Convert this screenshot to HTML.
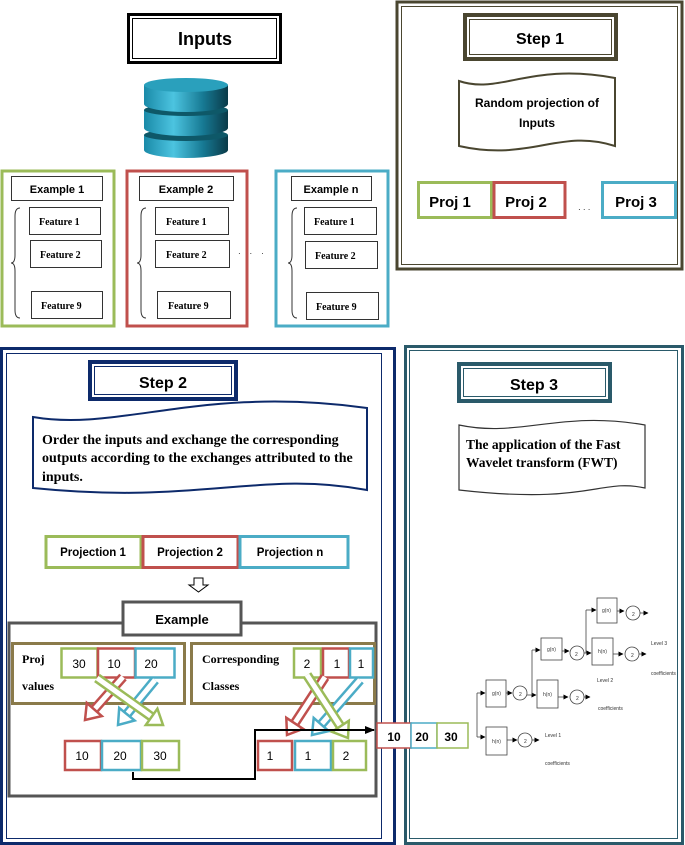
<!DOCTYPE html>
<html><head><meta charset="utf-8"><style>
body{margin:0;background:#fff}
svg{display:block}
.h{font-family:"Liberation Sans",sans-serif;font-weight:bold}
.s{font-family:"Liberation Serif",serif;font-weight:bold}
.n{font-family:"Liberation Sans",sans-serif}
</style></head><body>
<svg width="685" height="845" viewBox="0 0 685 845" xmlns="http://www.w3.org/2000/svg">
<defs>
<linearGradient id="cy" x1="0" x2="1" y1="0" y2="0">
<stop offset="0" stop-color="#1a8aa8"/><stop offset="0.35" stop-color="#4cc4e0"/><stop offset="0.7" stop-color="#177a94"/><stop offset="1" stop-color="#0a3a48"/></linearGradient>
<marker id="ah" markerUnits="userSpaceOnUse" markerWidth="5" markerHeight="5" refX="4.5" refY="2.5" orient="auto"><path d="M0,0 L5,2.5 L0,5 Z" fill="#000"/></marker>
<marker id="ahb" markerUnits="userSpaceOnUse" markerWidth="10" markerHeight="10" refX="9" refY="5" orient="auto"><path d="M0,1 L10,5 L0,9 Z" fill="#000"/></marker>
</defs>

<!-- Inputs -->
<rect x="128.5" y="14.5" width="152" height="48" fill="#fff" stroke="#000" stroke-width="3"/>
<rect x="132.5" y="18.5" width="144" height="40" fill="none" stroke="#000" stroke-width="1"/>
<text x="205" y="45" class="h" font-size="18" text-anchor="middle">Inputs</text>

<!-- Cylinder -->
<g>
<path d="M144,135 L144,150 A42,8 0 0 0 228,150 L228,135 Z" fill="url(#cy)"/>
<ellipse cx="186" cy="135" rx="42" ry="6" fill="#0e5868"/>
<path d="M144,110 L144,128 A42,8 0 0 0 228,128 L228,110 Z" fill="url(#cy)"/>
<ellipse cx="186" cy="110" rx="42" ry="6" fill="#0e5868"/>
<path d="M144,85 L144,104 A42,8 0 0 0 228,104 L228,85 Z" fill="url(#cy)"/>
<ellipse cx="186" cy="85" rx="42" ry="7" fill="#2aa0bc"/>
</g>

<!-- Example 1 -->
<rect x="2" y="171" width="112" height="155" fill="none" stroke="#9bbb59" stroke-width="3"/>
<rect x="11.5" y="176.5" width="91" height="24" fill="none" stroke="#333"/>
<text x="57" y="193" class="h" font-size="11" text-anchor="middle">Example 1</text>
<rect x="29.5" y="207.5" width="71" height="27" fill="none" stroke="#333"/>
<text x="39" y="225" class="s" font-size="10">Feature 1</text>
<rect x="30.5" y="240.5" width="71" height="27" fill="none" stroke="#333"/>
<text x="40" y="258" class="s" font-size="10">Feature 2</text>
<rect x="31.5" y="291.5" width="71" height="27" fill="none" stroke="#333"/>
<text x="41" y="309" class="s" font-size="10">Feature 9</text>
<path d="M20,208 Q15,208 15,216 L15,255 Q15,263 11,263 Q15,263 15,271 L15,310 Q15,318 20,318" fill="none" stroke="#333"/>

<!-- Example 2 -->
<rect x="127" y="171" width="120" height="155" fill="none" stroke="#c0504d" stroke-width="3"/>
<rect x="139.5" y="176.5" width="94" height="24" fill="none" stroke="#333"/>
<text x="186" y="193" class="h" font-size="11" text-anchor="middle">Example 2</text>
<rect x="155.5" y="207.5" width="73" height="27" fill="none" stroke="#333"/>
<text x="166" y="225" class="s" font-size="10">Feature 1</text>
<rect x="155.5" y="240.5" width="74" height="27" fill="none" stroke="#333"/>
<text x="166" y="258" class="s" font-size="10">Feature 2</text>
<rect x="157.5" y="291.5" width="73" height="27" fill="none" stroke="#333"/>
<text x="168" y="309" class="s" font-size="10">Feature 9</text>
<path d="M146,208 Q141,208 141,216 L141,255 Q141,263 137,263 Q141,263 141,271 L141,310 Q141,318 146,318" fill="none" stroke="#333"/>
<text x="238" y="256" class="n" font-size="8">·&#160;&#160;&#160;&#160;·&#160;&#160;&#160;&#160;·</text>

<!-- Example n -->
<rect x="276" y="171" width="112" height="155" fill="none" stroke="#4bacc6" stroke-width="3"/>
<rect x="291.5" y="176.5" width="80" height="24" fill="none" stroke="#333"/>
<text x="331" y="193" class="h" font-size="11" text-anchor="middle">Example n</text>
<rect x="304.5" y="207.5" width="72" height="27" fill="none" stroke="#333"/>
<text x="314" y="225" class="s" font-size="10">Feature 1</text>
<rect x="305.5" y="241.5" width="72" height="27" fill="none" stroke="#333"/>
<text x="315" y="259" class="s" font-size="10">Feature 2</text>
<rect x="306.5" y="292.5" width="72" height="27" fill="none" stroke="#333"/>
<text x="316" y="310" class="s" font-size="10">Feature 9</text>
<path d="M297,208 Q292,208 292,216 L292,255 Q292,263 288,263 Q292,263 292,271 L292,310 Q292,318 297,318" fill="none" stroke="#333"/>

<!-- Step 1 -->
<rect x="397" y="2" width="285" height="267" fill="none" stroke="#4a4630" stroke-width="3"/>
<rect x="401.5" y="6.5" width="276" height="258" fill="none" stroke="#4a4630" stroke-width="1"/>
<rect x="465" y="15" width="151" height="44" fill="#fff" stroke="#4a4630" stroke-width="4"/>
<rect x="469.5" y="19.5" width="142" height="35" fill="none" stroke="#4a4630"/>
<text x="540" y="44" class="h" font-size="16" text-anchor="middle">Step 1</text>
<path d="M459,81 C500,95 530,62 615,78 L615,146 C560,128 530,162 459,146 Z" fill="#fff" stroke="#4a4630" stroke-width="2"/>
<text x="537" y="107" class="h" font-size="12" text-anchor="middle">Random projection of</text>
<text x="537" y="127" class="h" font-size="12" text-anchor="middle">Inputs</text>
<rect x="418.5" y="182.5" width="73" height="35" fill="none" stroke="#9bbb59" stroke-width="3"/>
<text x="450" y="207" class="h" font-size="15" text-anchor="middle">Proj 1</text>
<rect x="494" y="182.5" width="71" height="35" fill="none" stroke="#c0504d" stroke-width="3"/>
<text x="526" y="207" class="h" font-size="15" text-anchor="middle">Proj 2</text>
<text x="578" y="212" class="n" font-size="8">· · ·</text>
<rect x="602.5" y="182.5" width="73" height="35" fill="none" stroke="#4bacc6" stroke-width="3"/>
<text x="636" y="207" class="h" font-size="15" text-anchor="middle">Proj 3</text>

<!-- Step 2 -->
<rect x="1.5" y="348.5" width="393" height="495" fill="none" stroke="#0d2a6b" stroke-width="3"/>
<rect x="6.5" y="353.5" width="375" height="485" fill="none" stroke="#0d2a6b" stroke-width="1"/>
<rect x="90" y="362" width="146" height="37" fill="#fff" stroke="#0d2a6b" stroke-width="4"/>
<rect x="94.5" y="366.5" width="137" height="28" fill="none" stroke="#0d2a6b"/>
<text x="163" y="388" class="h" font-size="16" text-anchor="middle">Step 2</text>
<path d="M33,417 C120,432 200,385 367,408 L367,490 C260,470 200,505 33,488 Z" fill="#fff" stroke="#0d2a6b" stroke-width="2"/>
<text x="42" y="444" class="s" font-size="14">Order the inputs and exchange the corresponding</text>
<text x="42" y="462" class="s" font-size="14">outputs according to the exchanges attributed to the</text>
<text x="42" y="481" class="s" font-size="14">inputs.</text>
<rect x="46" y="536.5" width="95" height="31" fill="none" stroke="#9bbb59" stroke-width="3"/>
<text x="93" y="556" class="h" font-size="11.5" text-anchor="middle">Projection 1</text>
<rect x="143" y="536.5" width="95" height="31" fill="none" stroke="#c0504d" stroke-width="3"/>
<text x="190" y="556" class="h" font-size="11.5" text-anchor="middle">Projection 2</text>
<rect x="240" y="536.5" width="108" height="31" fill="none" stroke="#4bacc6" stroke-width="3"/>
<text x="290" y="556" class="h" font-size="11.5" text-anchor="middle">Projection n</text>
<path d="M194,578 L203,578 L203,585 L208,585 L198.5,592 L189,585 L194,585 Z" fill="#fff" stroke="#000"/>

<!-- Example area -->
<rect x="9" y="623" width="367" height="173" fill="none" stroke="#555" stroke-width="3"/>
<rect x="123" y="602" width="118" height="33" fill="#fff" stroke="#555" stroke-width="3"/>
<text x="182" y="624" class="h" font-size="13" text-anchor="middle">Example</text>
<rect x="12.5" y="643.5" width="172" height="60" fill="none" stroke="#8a7a4a" stroke-width="3"/>
<text x="22" y="663" class="s" font-size="12">Proj</text>
<text x="22" y="690" class="s" font-size="12">values</text>
<rect x="61.5" y="648.5" width="36" height="29" fill="#fff" stroke="#9bbb59" stroke-width="2.5"/>
<text x="79" y="668" class="n" font-size="12" text-anchor="middle">30</text>
<rect x="98" y="648.5" width="37" height="29" fill="#fff" stroke="#c0504d" stroke-width="2.5"/>
<text x="114" y="668" class="n" font-size="12" text-anchor="middle">10</text>
<rect x="135.5" y="648.5" width="39" height="29" fill="#fff" stroke="#4bacc6" stroke-width="2.5"/>
<text x="151" y="668" class="n" font-size="12" text-anchor="middle">20</text>

<rect x="191.5" y="643.5" width="183" height="60" fill="none" stroke="#8a7a4a" stroke-width="3"/>
<text x="202" y="663" class="s" font-size="12">Corresponding</text>
<text x="202" y="690" class="s" font-size="12">Classes</text>
<rect x="294" y="648.5" width="27" height="29" fill="#fff" stroke="#9bbb59" stroke-width="2.5"/>
<text x="307" y="668" class="n" font-size="12" text-anchor="middle">2</text>
<rect x="323" y="648.5" width="26" height="29" fill="#fff" stroke="#c0504d" stroke-width="2.5"/>
<text x="337" y="668" class="n" font-size="12" text-anchor="middle">1</text>
<rect x="350" y="648.5" width="23" height="29" fill="#fff" stroke="#4bacc6" stroke-width="2.5"/>
<text x="361" y="668" class="n" font-size="12" text-anchor="middle">1</text>

<!-- hollow arrows -->
<g stroke-linejoin="miter">
<line x1="123" y1="677" x2="94.3" y2="709.5" stroke="#c0504d" stroke-width="10"/>
<line x1="123" y1="677" x2="94.3" y2="709.5" stroke="#fff" stroke-width="5"/>
<polygon points="85,720 86.8,702.9 101.8,716.1" fill="#fff" stroke="#c0504d" stroke-width="2.5"/>
<line x1="155" y1="680" x2="126.9" y2="714.2" stroke="#4bacc6" stroke-width="10"/>
<line x1="155" y1="680" x2="126.9" y2="714.2" stroke="#fff" stroke-width="5"/>
<polygon points="118,725 119.2,707.9 134.6,720.5" fill="#fff" stroke="#4bacc6" stroke-width="2.5"/>
<line x1="97" y1="678" x2="151.6" y2="716.9" stroke="#9bbb59" stroke-width="10"/>
<line x1="97" y1="678" x2="151.6" y2="716.9" stroke="#fff" stroke-width="5"/>
<polygon points="163,725 145.8,725 157.4,708.7" fill="#fff" stroke="#9bbb59" stroke-width="2.5"/>

<line x1="325" y1="677" x2="294.7" y2="723.3" stroke="#c0504d" stroke-width="10"/>
<line x1="325" y1="677" x2="294.7" y2="723.3" stroke="#fff" stroke-width="5"/>
<polygon points="287,735 286.3,717.8 303.1,728.8" fill="#fff" stroke="#c0504d" stroke-width="2.5"/>
<line x1="360" y1="680" x2="321.2" y2="724.5" stroke="#4bacc6" stroke-width="10"/>
<line x1="360" y1="680" x2="321.2" y2="724.5" stroke="#fff" stroke-width="5"/>
<polygon points="312,735 313.7,717.9 328.7,731.1" fill="#fff" stroke="#4bacc6" stroke-width="2.5"/>
<line x1="307" y1="675" x2="340.4" y2="726.3" stroke="#9bbb59" stroke-width="10"/>
<line x1="307" y1="675" x2="340.4" y2="726.3" stroke="#fff" stroke-width="5"/>
<polygon points="348,738 332,731.8 348.8,720.8" fill="#fff" stroke="#9bbb59" stroke-width="2.5"/>
</g>

<!-- bottom rows -->
<rect x="65" y="741" width="36" height="29" fill="#fff" stroke="#c0504d" stroke-width="2.5"/>
<text x="82" y="760" class="n" font-size="12" text-anchor="middle">10</text>
<rect x="102" y="741" width="39" height="29" fill="#fff" stroke="#4bacc6" stroke-width="2.5"/>
<text x="120" y="760" class="n" font-size="12" text-anchor="middle">20</text>
<rect x="142" y="741" width="37" height="29" fill="#fff" stroke="#9bbb59" stroke-width="2.5"/>
<text x="160" y="760" class="n" font-size="12" text-anchor="middle">30</text>
<rect x="258" y="741" width="34" height="29" fill="#fff" stroke="#c0504d" stroke-width="2.5"/>
<text x="270" y="760" class="n" font-size="12" text-anchor="middle">1</text>
<rect x="295" y="741" width="36" height="29" fill="#fff" stroke="#4bacc6" stroke-width="2.5"/>
<text x="308" y="760" class="n" font-size="12" text-anchor="middle">1</text>
<rect x="333" y="741" width="33" height="29" fill="#fff" stroke="#9bbb59" stroke-width="2.5"/>
<text x="346" y="760" class="n" font-size="12" text-anchor="middle">2</text>
<polyline points="133,772 133,779 255,779 255,730 374,730" fill="none" stroke="#000" stroke-width="2" marker-end="url(#ahb)"/>

<!-- Step 3 -->
<rect x="405.5" y="346.5" width="277" height="497" fill="none" stroke="#2a5a6a" stroke-width="3"/>
<rect x="409.5" y="350.5" width="268" height="488" fill="none" stroke="#2a5a6a" stroke-width="1"/>
<rect x="459" y="364" width="151" height="37" fill="#fff" stroke="#2a5a6a" stroke-width="4"/>
<rect x="463.5" y="368.5" width="142" height="28" fill="none" stroke="#2a5a6a"/>
<text x="534" y="390" class="h" font-size="16" text-anchor="middle">Step 3</text>
<path d="M459,425 C520,438 560,410 645,425 L645,488 C600,478 590,505 459,490 Z" fill="#fff" stroke="#333" stroke-width="1.2"/>
<text x="466" y="449" class="s" font-size="13.5">The application of  the Fast</text>
<text x="466" y="467" class="s" font-size="13.5">Wavelet transform  (FWT)</text>

<!-- 10 20 30 -->
<rect x="377" y="723" width="34" height="25" fill="#fff" stroke="#c0504d" stroke-width="1.5"/>
<text x="394" y="741" class="h" font-size="12" text-anchor="middle">10</text>
<rect x="411" y="723" width="26" height="25" fill="#fff" stroke="#4bacc6" stroke-width="1.5"/>
<text x="422" y="741" class="h" font-size="12" text-anchor="middle">20</text>
<rect x="437" y="723" width="31" height="25" fill="#fff" stroke="#9bbb59" stroke-width="1.5"/>
<text x="451" y="741" class="h" font-size="12" text-anchor="middle">30</text>

<!-- FWT -->
<g stroke="#444" stroke-width="0.8" fill="#fff" font-family="Liberation Sans,sans-serif" font-size="5">
<line x1="477" y1="693" x2="477" y2="737"/>
<line x1="477" y1="693" x2="485" y2="693" marker-end="url(#ah)"/>
<line x1="477" y1="737" x2="485" y2="737" marker-end="url(#ah)"/>
<rect x="486" y="680" width="20" height="27"/><rect x="486" y="727" width="21" height="28"/>
<line x1="506" y1="693" x2="512" y2="693" marker-end="url(#ah)"/>
<line x1="507" y1="740" x2="517" y2="740" marker-end="url(#ah)"/>
<circle cx="520" cy="693" r="7"/><circle cx="525" cy="740" r="7"/>
<line x1="532" y1="740" x2="539" y2="740" marker-end="url(#ah)"/>
<line x1="527" y1="695" x2="536" y2="695" marker-end="url(#ah)"/>
<line x1="532" y1="650" x2="532" y2="695"/>
<line x1="532" y1="650" x2="540" y2="650" marker-end="url(#ah)"/>
<rect x="537" y="680" width="21" height="28"/><rect x="541" y="638" width="21" height="22"/>
<line x1="558" y1="697" x2="568" y2="697" marker-end="url(#ah)"/>
<line x1="562" y1="651" x2="569" y2="651" marker-end="url(#ah)"/>
<circle cx="577" cy="697" r="7"/><circle cx="577" cy="653" r="7"/>
<line x1="584" y1="697" x2="590" y2="697" marker-end="url(#ah)"/>
<line x1="584" y1="653" x2="591" y2="653" marker-end="url(#ah)"/>
<line x1="586" y1="610" x2="586" y2="653"/>
<line x1="586" y1="610" x2="596" y2="610" marker-end="url(#ah)"/>
<rect x="597" y="598" width="20" height="25"/><rect x="592" y="638" width="21" height="27"/>
<line x1="617" y1="611" x2="624" y2="611" marker-end="url(#ah)"/>
<line x1="613" y1="654" x2="623" y2="654" marker-end="url(#ah)"/>
<circle cx="633" cy="613" r="7"/><circle cx="632" cy="654" r="7"/>
<line x1="640" y1="613" x2="648" y2="613" marker-end="url(#ah)"/>
<line x1="639" y1="654" x2="646" y2="654" marker-end="url(#ah)"/>
<g fill="#333" stroke="none">
<text x="492" y="695">g(n)</text><text x="492" y="743">h(n)</text>
<text x="543" y="696">h(n)</text><text x="547" y="651">g(n)</text>
<text x="602" y="612">g(n)</text><text x="598" y="653">h(n)</text>
<text x="519" y="696">2</text><text x="524" y="743">2</text><text x="576" y="700">2</text><text x="575" y="656">2</text><text x="632" y="616">2</text><text x="631" y="657">2</text>
<text x="545" y="737">Level 1</text><text x="545" y="765">coefficients</text>
<text x="597" y="682">Level 2</text><text x="598" y="710">coefficients</text>
<text x="651" y="645">Level 3</text><text x="651" y="675">coefficients</text>
</g>
</g>
</svg>
</body></html>
